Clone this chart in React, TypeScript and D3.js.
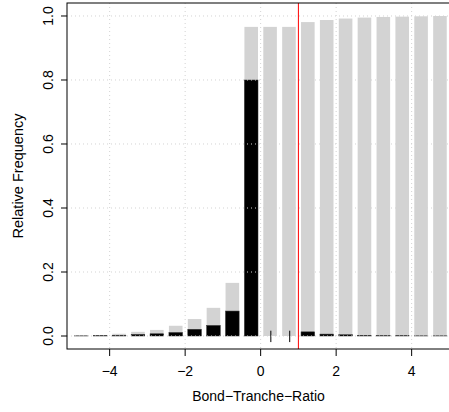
import React from "react";
import * as d3 from "d3";

// bin centres of the Bond-Tranche-Ratio histogram (width 0.5)
const binCenters = [-4.75, -4.25, -3.75, -3.25, -2.75, -2.25, -1.75, -1.25, -0.75, -0.25,
  0.25, 0.75, 1.25, 1.75, 2.25, 2.75, 3.25, 3.75, 4.25, 4.75];
const grayValues = [0.001, 0.003, 0.007, 0.013, 0.019, 0.032, 0.053, 0.088, 0.166, 0.966,
  0.966, 0.966, 0.981, 0.9875, 0.992, 0.995, 0.997, 0.998, 0.999, 1.0];
const blackValues = [0.0005, 0.001, 0.002, 0.005, 0.007, 0.011, 0.021, 0.033, 0.078, 0.8,
  0, 0, 0.013, 0.006, 0.004, 0.002, 0.001, 0.001, 0.0005, 0.0005];
const markX = [0.27, 0.77];
const xTicks = [-4, -2, 0, 2, 4];
const yTicks = [0, 0.2, 0.4, 0.6, 0.8, 1.0];
const cutoff = 1;

const W = 449, H = 412;
const left = 67, top = 3, bottom = 349, right = 454.3;

export default function App() {
  const x = d3.scaleLinear().domain([-5.13, 5.13]).range([left, right]);
  const y = d3.scaleLinear().domain([-0.0406, 1.0406]).range([bottom, top]);
  const bw = x(0.36) - x(0);
  const fmtX = (v: number) => (v < 0 ? "\u2212" + Math.abs(v) : String(v));
  const font = "Liberation Sans, Arial, Helvetica, sans-serif";
  const fs = 14;

  return (
    <svg width={W} height={H} style={{ position: "absolute", left: 0, top: 0 }} fontFamily={font}>
      <rect width={W} height={H} fill="white" />
      {binCenters.map((c, i) => (
        <rect key={"g" + i} x={x(c) - bw / 2} y={y(grayValues[i])} width={bw}
          height={y(0) - y(grayValues[i])} fill="#d3d3d3" />
      ))}
      {binCenters.map((c, i) => blackValues[i] > 0 ? (
        <rect key={"b" + i} x={x(c) - bw / 2} y={y(blackValues[i])} width={bw}
          height={y(0) - y(blackValues[i])} fill="black" stroke="#333" strokeWidth={0.5} />
      ) : null)}
      {markX.map((m, i) => (
        <line key={"m" + i} x1={x(m)} x2={x(m)} y1={y(0.0166)} y2={y(-0.019)} stroke="black" strokeWidth={1} />
      ))}
      {/* grid on top of bars */}
      {xTicks.map(t => (
        <line key={"gx" + t} x1={x(t)} x2={x(t)} y1={top} y2={bottom} stroke="#d3d3d3" strokeDasharray="1,3" />
      ))}
      {yTicks.map(t => (
        <line key={"gy" + t} x1={left} x2={right} y1={y(t)} y2={y(t)} stroke="#d3d3d3" strokeDasharray="1,3" />
      ))}
      <line x1={x(cutoff)} x2={x(cutoff)} y1={top} y2={bottom} stroke="red" strokeWidth={1} />
      <rect x={left} y={top} width={right - left} height={bottom - top} fill="none" stroke="black" strokeWidth={1} />
      {/* x axis */}
      {xTicks.map(t => (
        <g key={"xt" + t}>
          <line x1={x(t)} x2={x(t)} y1={bottom} y2={bottom + 7} stroke="black" />
          <text x={x(t)} y={376} fontSize={fs} textAnchor="middle">{fmtX(t)}</text>
        </g>
      ))}
      <text x={258.5} y={401} fontSize={fs} textAnchor="middle">Bond{"\u2212"}Tranche{"\u2212"}Ratio</text>
      {/* y axis */}
      {yTicks.map(t => (
        <g key={"yt" + t}>
          <line x1={left - 6} x2={left} y1={y(t)} y2={y(t)} stroke="black" />
          <text transform={`translate(53,${y(t)}) rotate(-90)`} fontSize={fs} textAnchor="middle">{t.toFixed(1)}</text>
        </g>
      ))}
      <text transform={`translate(23,176) rotate(-90)`} fontSize={14.5} textAnchor="middle">Relative Frequency</text>
    </svg>
  );
}
